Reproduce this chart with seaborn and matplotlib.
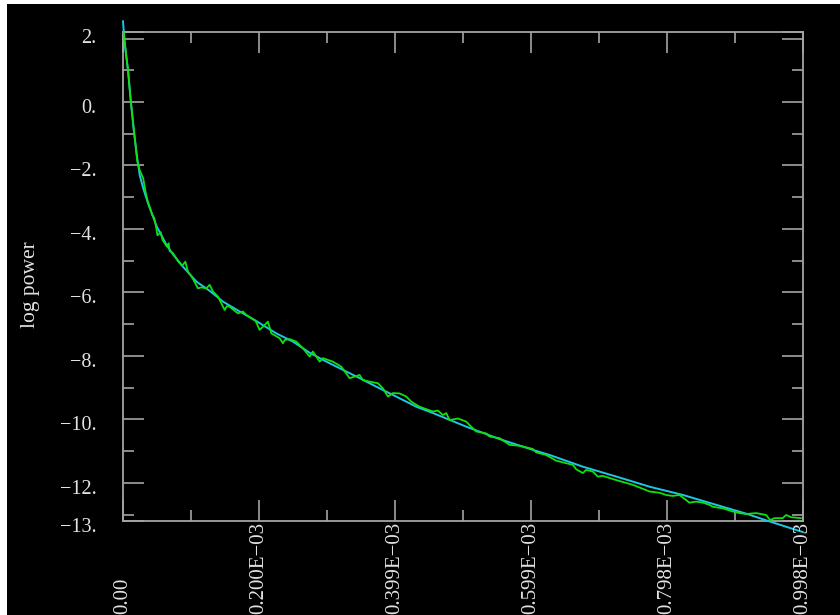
import matplotlib
matplotlib.use("Agg")
import matplotlib.pyplot as plt
import matplotlib.transforms as mtransforms
from matplotlib.patches import Rectangle
import seaborn as sns

# ---------------- data ----------------
# frequency in units of 1E-03
fit_f = [0.0, 0.0010, 0.0025, 0.0073, 0.0113, 0.0157, 0.0211, 0.0245, 0.0294, 0.0367,
         0.0421, 0.0490, 0.0564, 0.0637, 0.0734, 0.0881, 0.1078, 0.1273, 0.1468, 0.1713,
         0.1933, 0.2251, 0.2495, 0.2740, 0.2985, 0.3229, 0.3474, 0.3719, 0.3963, 0.4306,
         0.4550, 0.5040, 0.5529, 0.6017, 0.6262, 0.6751, 0.7241, 0.7730, 0.8219, 0.8659,
         0.9149, 0.9443, 0.9833, 0.998]
fit_logpow = [2.55, 2.25, 1.85, 1.01, 0.06, -0.88, -1.8, -2.3, -2.7, -3.19,
              -3.5, -3.9, -4.2, -4.5, -4.8, -5.19, -5.66, -5.95, -6.29, -6.6,
              -6.87, -7.29, -7.55, -7.9, -8.18, -8.44, -8.7, -8.97, -9.23, -9.6,
              -9.8, -10.23, -10.62, -10.96, -11.12, -11.49, -11.8, -12.12, -12.38, -12.66,
              -12.97, -13.18, -13.45, -13.55]

data_f = [0.0010, 0.0040, 0.0076, 0.0113, 0.0164, 0.0208, 0.0245, 0.0296, 0.0333, 0.0362,
          0.0399, 0.0428, 0.0458, 0.0487, 0.0505, 0.0531, 0.0553, 0.0582, 0.0612, 0.0641,
          0.0670, 0.0685, 0.0729, 0.0759, 0.0803, 0.0861, 0.0880, 0.0915, 0.0954, 0.1008,
          0.1100, 0.1150, 0.1223, 0.1272, 0.1320, 0.1394, 0.1443, 0.1492, 0.1526, 0.1565,
          0.1687, 0.1760, 0.1810, 0.1884, 0.1947, 0.2005, 0.2104, 0.2127, 0.2177, 0.2299,
          0.2347, 0.2372, 0.2446, 0.2544, 0.2641, 0.2739, 0.2787, 0.2886, 0.2934, 0.3081,
          0.3204, 0.3326, 0.3399, 0.3473, 0.3521, 0.3619, 0.3741, 0.3814, 0.3888, 0.3961,
          0.4059, 0.4157, 0.4231, 0.4353, 0.4548, 0.4621, 0.4694, 0.4744, 0.4793, 0.4915,
          0.5038, 0.5111, 0.5184, 0.5331, 0.5380, 0.5527, 0.5673, 0.5820, 0.6015, 0.6065,
          0.6211, 0.6358, 0.6505, 0.6602, 0.6651, 0.6749, 0.6798, 0.6895, 0.6968, 0.7042,
          0.7238, 0.7482, 0.7727, 0.7874, 0.7972, 0.8069, 0.8167, 0.8313, 0.8412, 0.8509,
          0.8607, 0.8655, 0.8802, 0.8949, 0.9047, 0.9145, 0.9292, 0.9439, 0.9497, 0.9560,
          0.9682, 0.9732, 0.9805, 0.9952]
data_logpow = [2.2, 1.6, 0.95, 0.05, -0.95, -1.85, -2.15, -2.4, -2.85, -3.12,
               -3.35, -3.55, -3.65, -3.95, -4.2, -4.15, -4.1, -4.35, -4.45, -4.55,
               -4.45, -4.7, -4.75, -4.85, -5.0, -5.15, -5.13, -5.03, -5.35, -5.5,
               -5.87, -5.84, -5.87, -5.76, -5.97, -6.13, -6.34, -6.55, -6.43, -6.45,
               -6.66, -6.6, -6.71, -6.81, -6.9, -7.18, -6.97, -6.92, -7.29, -7.44,
               -7.60, -7.50, -7.47, -7.55, -7.76, -8.02, -7.86, -8.18, -8.07, -8.18,
               -8.34, -8.70, -8.65, -8.60, -8.76, -8.81, -8.86, -9.02, -9.28, -9.17,
               -9.18, -9.28, -9.44, -9.6, -9.75, -9.72, -9.86, -9.80, -10.02, -9.97,
               -10.07, -10.23, -10.38, -10.44, -10.54, -10.59, -10.80, -10.83, -10.93, -11.04,
               -11.12, -11.30, -11.38, -11.43, -11.57, -11.69, -11.59, -11.64, -11.80, -11.78,
               -11.91, -12.06, -12.27, -12.31, -12.38, -12.41, -12.38, -12.62, -12.59, -12.62,
               -12.69, -12.75, -12.80, -12.90, -12.95, -12.98, -12.95, -13.01, -13.17, -13.11,
               -13.11, -13.01, -13.08, -13.11]

x_ticks = [0.0, 0.1996, 0.3992, 0.5988, 0.7984, 0.998]
x_tick_labels = ["0.00", "0.200E\u221203", "0.399E\u221203", "0.599E\u221203",
                 "0.798E\u221203", "0.998E\u221203"]
x_minor = [0.0998, 0.2994, 0.4990, 0.6986, 0.8982]
y_min, y_max = -13.19, 2.205
y_ticks = [y_max, 2, 0, -2, -4, -6, -8, -10, -12, y_min]
y_tick_labels = ["2.", "", "0.", "\u22122.", "\u22124.", "\u22126.", "\u22128.",
                 "\u221210.", "\u221212.", "\u221213."]
y_minor = [1, -1, -3, -5, -7, -9, -11, -13]
y_label = "log power"

# ---------------- style ----------------
sns.set_style("dark")
axis_gray = "#a4a4a4"
text_gray = "#e2e2e2"
plt.rcParams["font.family"] = ["Liberation Serif", "DejaVu Serif"]

fig = plt.figure(figsize=(8.4, 6.15), dpi=100)
fig.patch.set_facecolor("white")
fig.patches.append(Rectangle((7 / 840, 0), 1 - 7 / 840, 1 - 4 / 615,
                             transform=fig.transFigure, facecolor="black",
                             edgecolor="none", zorder=-10))

ax = fig.add_axes([123 / 840, 1 - 520.7 / 615, (803 - 123) / 840, (520.7 - 32) / 615])
ax.set_facecolor("black")

sns.lineplot(x=fit_f, y=fit_logpow, ax=ax, color="#1ec6e6", linewidth=1.4,
             clip_on=False, zorder=3)
sns.lineplot(x=data_f, y=data_logpow, ax=ax, color="#10e010", linewidth=1.3,
             clip_on=False, zorder=4)

ax.set_xlim(0, 0.998)
ax.set_ylim(y_min, y_max)
ax.grid(False)

for s in ax.spines.values():
    s.set_visible(True)
    s.set_color(axis_gray)
    s.set_linewidth(1.3)

ax.set_xticks(x_ticks)
ax.set_xticks(x_minor, minor=True)
ax.set_yticks(y_ticks)
ax.set_yticklabels(y_tick_labels)
ax.set_yticks(y_minor, minor=True)

ax.tick_params(which="both", direction="in", color=axis_gray, width=1.2,
               top=True, right=True, bottom=True, left=True,
               labelbottom=False, labeltop=False, labelright=False)
ax.tick_params(which="major", length=15)
ax.tick_params(which="minor", length=8)
ax.tick_params(axis="y", which="major", labelsize=14.5, labelcolor=text_gray, pad=19)

offset = mtransforms.ScaledTranslation(0, -4 / 100, fig.dpi_scale_trans)
for lab in ax.get_yticklabels():
    lab.set_transform(lab.get_transform() + offset)

trans = mtransforms.blended_transform_factory(ax.transData, fig.transFigure)
for xv, lab in zip(x_ticks, x_tick_labels):
    ax.text(xv, 1 - 614 / 615, lab, transform=trans, rotation=90,
            ha="center", va="bottom", fontsize=15, color=text_gray)

ax.set_xlabel("")
ax.set_ylabel("")
fig.text(30 / 840, 1 - 285 / 615, y_label, rotation=90, ha="center", va="center",
         fontsize=15.5, color=text_gray)

fig.savefig("out.png", dpi=100, facecolor=fig.get_facecolor())
